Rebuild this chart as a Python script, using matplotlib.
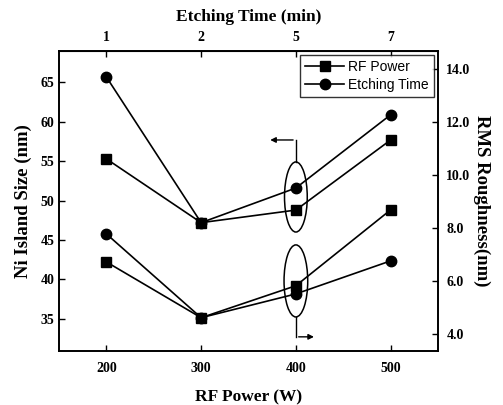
import matplotlib.pyplot as plt
from matplotlib.patches import Ellipse

# data
rf_power = [200, 300, 400, 500]          # W, bottom axis
etch_time = ['1', '2', '5', '7']         # min, top axis (same positions)

# Ni island size (left axis)
size_rf = [55.3, 47.2, 48.8, 57.7]
size_etch = [65.7, 47.2, 51.6, 60.9]

# RMS roughness (right axis)
rms_rf = [6.72, 4.61, 5.82, 8.69]
rms_etch = [7.78, 4.61, 5.51, 6.76]

serif = 'Liberation Serif'
sans = 'Liberation Sans'

fig = plt.figure(figsize=(5.03, 4.05), dpi=100)
ax = fig.add_axes([0.1173, 0.1333, 0.7535, 0.7408])
ax2 = ax.twinx()

kw = dict(color='black', lw=1.2)
l1, = ax.plot(rf_power, size_rf, marker='s', ms=7, label='RF Power', **kw)
l2, = ax.plot(rf_power, size_etch, marker='o', ms=7.5, label='Etching Time', **kw)
ax2.plot(rf_power, rms_rf, marker='s', ms=7, **kw)
ax2.plot(rf_power, rms_etch, marker='o', ms=7.5, **kw)

ax.set_xlim(150, 550)
ax.set_ylim(30.9, 69.0)
ax2.set_ylim(3.35, 14.7)

ax.set_xticks(rf_power)
ax.set_yticks([35, 40, 45, 50, 55, 60, 65])
ax2.set_yticks([4, 6, 8, 10, 12, 14])
ax2.set_yticklabels(['%.1f' % v for v in [4, 6, 8, 10, 12, 14]])

top = ax.secondary_xaxis('top')
top.set_xticks(rf_power)
top.set_xticklabels(etch_time)

for a in (ax, ax2, top):
    a.tick_params(direction='in', length=4, width=1)
    for lab in a.get_xticklabels() + a.get_yticklabels():
        lab.set_fontfamily(serif)
        lab.set_fontweight('bold')
        lab.set_fontsize(10)
ax.tick_params(axis='x', pad=8)
top.tick_params(pad=5)
ax2.tick_params(pad=6)

for sp in list(ax.spines.values()) + list(ax2.spines.values()):
    sp.set_linewidth(1.2)

ax.set_xlabel('RF Power (W)', labelpad=10, fontfamily=serif, fontweight='bold', fontsize=12.5)
ax.set_ylabel('Ni Island Size (nm)', labelpad=6, fontfamily=serif, fontweight='bold', fontsize=13.5)
ax2.set_ylabel('RMS Roughness(nm)', rotation=-90, labelpad=14, fontfamily=serif,
               fontweight='bold', fontsize=13.5)
top.set_xlabel('Etching Time (min)', labelpad=7, fontfamily=serif, fontweight='bold', fontsize=12.5)

leg = ax2.legend(handles=[l1, l2], loc='upper right', fancybox=False,
                 edgecolor='black', prop={'family': sans, 'size': 10},
                 borderaxespad=0.3, handlelength=2.8, handletextpad=0.3,
                 labelspacing=0.3, borderpad=0.35)
leg.get_frame().set_linewidth(1.0)

# ellipses and arrows marking which axis each group belongs to
ax.add_patch(Ellipse((400, 50.46), 24, 8.9, fill=False, lw=1.1, color='black'))
ax.add_patch(Ellipse((400, 39.8), 25, 9.15, fill=False, lw=1.1, color='black'))
ax.plot([400, 400], [54.9, 57.7], color='black', lw=1)
ax.annotate('', xy=(370, 57.7), xytext=(400, 57.7),
            arrowprops=dict(arrowstyle='-|>', color='black', lw=1, mutation_scale=8))
ax.plot([400, 400], [35.2, 32.7], color='black', lw=1)
ax.annotate('', xy=(422, 32.7), xytext=(400, 32.7),
            arrowprops=dict(arrowstyle='-|>', color='black', lw=1, mutation_scale=8))

fig.savefig('out.png', dpi=100)
